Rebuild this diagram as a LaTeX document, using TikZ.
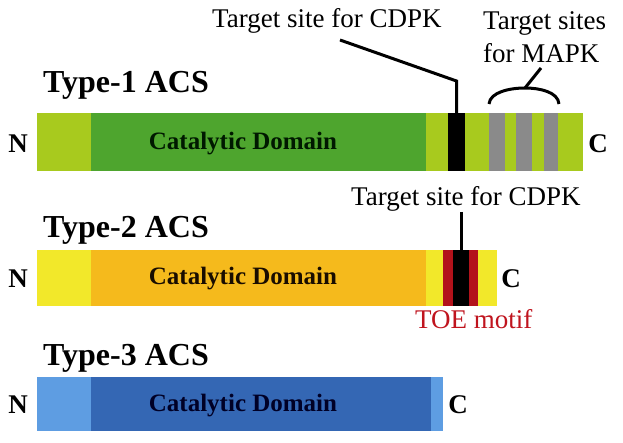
\documentclass[tikz,border=0pt]{standalone}
\usepackage{fontspec}
\setmainfont{Liberation Serif}
\definecolor{lgreen}{HTML}{A8CA1E}
\definecolor{dgreen}{HTML}{4EA52E}
\definecolor{mgray}{HTML}{8A8A8A}
\definecolor{lyel}{HTML}{F2E82A}
\definecolor{orng}{HTML}{F5BA1C}
\definecolor{motred}{HTML}{B3121B}
\definecolor{toered}{HTML}{C0141E}
\definecolor{lblue}{HTML}{5E9DE2}
\definecolor{dblue}{HTML}{3467B4}
\begin{document}
\begin{tikzpicture}[x=1pt,y=-1pt,
  seg/.style={draw=none,inner sep=0pt,outer sep=0pt,anchor=north west},
  title/.style={anchor=base west,inner sep=0pt,font=\fontsize{32}{36}\selectfont\bfseries},
  lbl/.style={anchor=base west,inner sep=0pt,font=\fontsize{27}{33}\selectfont},
  dom/.style={inner sep=0pt,font=\fontsize{25}{28}\selectfont\bfseries},
  term/.style={inner sep=0pt,font=\fontsize{27}{30}\selectfont\bfseries},
  conn/.style={line width=3pt,black}]
\useasboundingbox[fill=white] (0,0) rectangle (623,443);
% ---------- Type-1 ----------
\node[title] (t1) at (43,93) {Type-1 ACS};
\node[seg,fill=lgreen,minimum width=546pt,minimum height=58pt] (b1) at (37,113) {};
\node[seg,fill=dgreen,minimum width=335pt,minimum height=58pt] (d1) at (91,113) {};
\node[seg,fill=black,minimum width=17pt,minimum height=58pt] (k1) at (448,113) {};
\node[seg,fill=mgray,minimum width=16pt,minimum height=58pt] (g1) at (489,113) {};
\node[seg,fill=mgray,minimum width=16pt,minimum height=58pt] (g2) at (516,113) {};
\node[seg,fill=mgray,minimum width=14pt,minimum height=58pt] (g3) at (544,113) {};
\node[dom,text=black!90!green] (cd1) at (243,144) {Catalytic Domain};
\node[term] (n1) at (18,144) {N};
\node[term] (c1) at (598,144) {C};
\node[lbl] (cdpk1) at (212,28) {Target site for CDPK};
\node[lbl] (mapk1) at (483,30) {Target sites};
\node[lbl] (mapk2) at (483,63) {for MAPK};
\coordinate (c1a) at (340,40);
\coordinate (c1k) at (456.5,81);
\draw[conn] (c1a) -- (c1k) -- (k1.north);
\coordinate (brL) at (489,104);
\coordinate (brM) at (525,88);
\coordinate (brR) at (559,104);
\coordinate (brT) at (541,68);
\draw[conn] (brL) .. controls (490,92) and (510,88) .. (brM) .. controls (540,88) and (558,92) .. (brR);
\draw[conn] (brM) -- (brT);
% ---------- Type-2 ----------
\node[title] (t2) at (43,238) {Type-2 ACS};
\node[seg,fill=lyel,minimum width=460pt,minimum height=56pt] (b2) at (37,250) {};
\node[seg,fill=orng,minimum width=335pt,minimum height=56pt] (d2) at (91,250) {};
\node[seg,fill=motred,minimum width=35pt,minimum height=56pt] (r2) at (443,250) {};
\node[seg,fill=black,minimum width=16pt,minimum height=56pt] (k2) at (453,250) {};
\node[dom,text=black!90!orange] (cd2) at (243,279) {Catalytic Domain};
\node[term] (n2) at (18,279) {N};
\node[term] (c2) at (511,279) {C};
\node[lbl] (cdpk2) at (351,206) {Target site for CDPK};
\node[lbl,text=toered] (toe) at (415,328) {TOE motif};
\coordinate (c2a) at (461,212);
\draw[conn] (c2a) -- (k2.north);
% ---------- Type-3 ----------
\node[title] (t3) at (43,365) {Type-3 ACS};
\node[seg,fill=lblue,minimum width=406pt,minimum height=54pt] (b3) at (37,377) {};
\node[seg,fill=dblue,minimum width=340pt,minimum height=54pt] (d3) at (91,377) {};
\node[dom,text=black!85!blue] (cd3) at (243,406) {Catalytic Domain};
\node[term] (n3) at (18,405) {N};
\node[term] (c3) at (458,405) {C};
\end{tikzpicture}
\end{document}
